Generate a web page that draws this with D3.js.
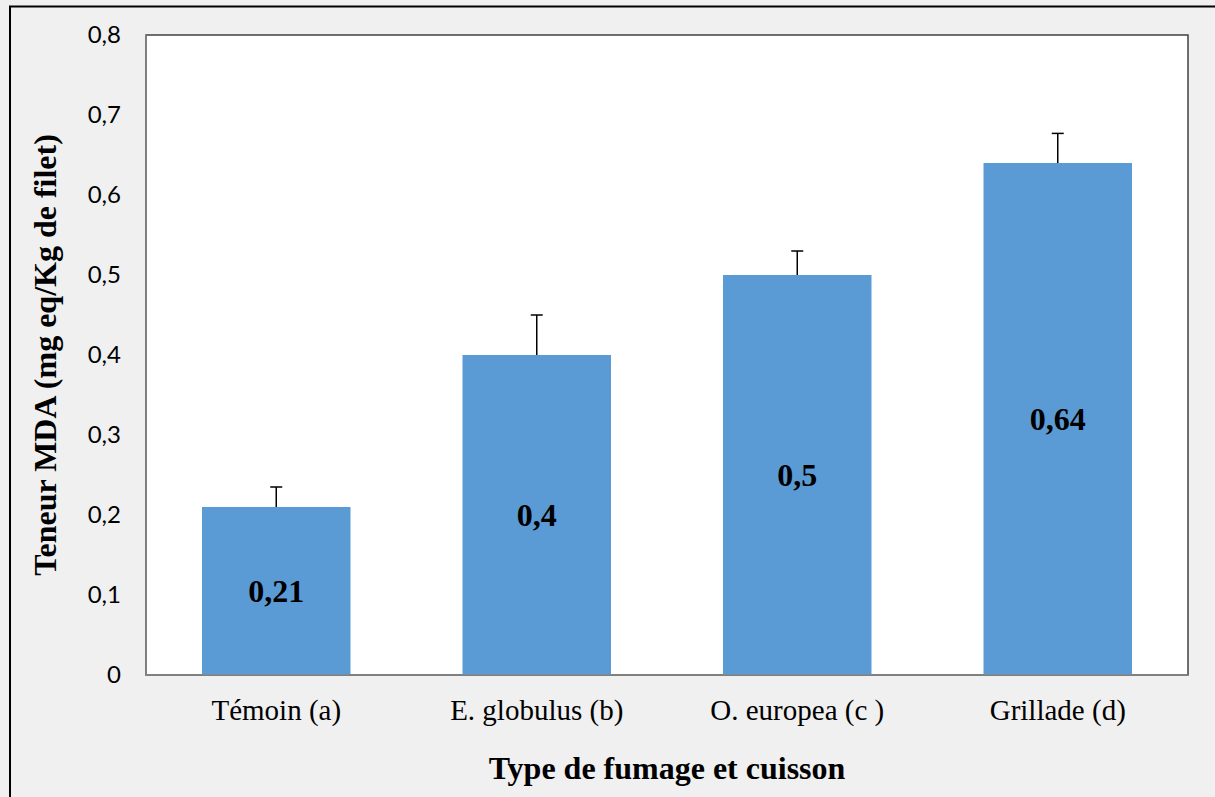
<!DOCTYPE html>
<html>
<head>
<meta charset="utf-8">
<script src="https://cdn.jsdelivr.net/npm/d3@7"></script>
<style>
  html, body { margin: 0; padding: 0; background: #f0f0f0; }
  svg { display: block; }
</style>
</head>
<body>
<svg id="chart" width="1215" height="797"></svg>
<script>
// MDA content by smoking / cooking type
const categories = ["Témoin (a)", "E. globulus (b)", "O. europea (c )", "Grillade (d)"];
const values = [0.21, 0.4, 0.5, 0.64];
const valueLabels = ["0,21", "0,4", "0,5", "0,64"];
const errors = [0.025, 0.05, 0.03, 0.037];
const yTicks = [0, 0.1, 0.2, 0.3, 0.4, 0.5, 0.6, 0.7, 0.8];

const svg = d3.select("#chart");
const W = 1215, H = 797;
const plot = { left: 146, top: 35, right: 1188, bottom: 675 };
const serif = "'Liberation Serif', 'Times New Roman', serif";

// outer frame
svg.append("rect").attr("x", 0).attr("y", 0).attr("width", W).attr("height", H).attr("fill", "#f0f0f0");
svg.append("line").attr("x1", 10).attr("x2", 10).attr("y1", 6.5).attr("y2", H).attr("stroke", "#000").attr("stroke-width", 2);
svg.append("line").attr("x1", 9).attr("x2", W).attr("y1", 6.5).attr("y2", 6.5).attr("stroke", "#000").attr("stroke-width", 2);

const x = d3.scaleBand().domain(categories).range([plot.left, plot.right]).paddingInner(0.43).paddingOuter(0.215);
const y = d3.scaleLinear().domain([0, 0.8]).range([plot.bottom, plot.top]);

// plot area
svg.append("rect")
  .attr("x", plot.left).attr("y", plot.top)
  .attr("width", plot.right - plot.left).attr("height", plot.bottom - plot.top)
  .attr("fill", "#fff").attr("stroke", "#404040").attr("stroke-width", 1.5);

// bars
svg.selectAll("rect.bar").data(values).join("rect")
  .attr("class", "bar")
  .attr("x", (d, i) => x(categories[i]))
  .attr("width", x.bandwidth())
  .attr("y", d => y(d))
  .attr("height", d => y(0) - y(d))
  .attr("fill", "#5b9bd5");

// error bars (upper only)
const eb = svg.append("g").attr("stroke", "#000").attr("stroke-width", 1.5);
values.forEach((v, i) => {
  const cx = x(categories[i]) + x.bandwidth() / 2;
  eb.append("line").attr("x1", cx).attr("x2", cx).attr("y1", y(v)).attr("y2", y(v + errors[i]));
  eb.append("line").attr("x1", cx - 6).attr("x2", cx + 6).attr("y1", y(v + errors[i])).attr("y2", y(v + errors[i]));
});

// value labels inside bars
svg.selectAll("text.val").data(values).join("text")
  .attr("class", "val")
  .attr("x", (d, i) => x(categories[i]) + x.bandwidth() / 2)
  .attr("y", d => (y(d) + y(0)) / 2)
  .attr("dy", "0.35em")
  .attr("text-anchor", "middle")
  .attr("font-family", serif)
  .attr("font-weight", "bold")
  .attr("font-size", 32)
  .text((d, i) => valueLabels[i]);

// axes lines
svg.append("line").attr("x1", plot.left).attr("x2", plot.left).attr("y1", plot.top).attr("y2", plot.bottom).attr("stroke", "#868686").attr("stroke-width", 1.5);
svg.append("line").attr("x1", plot.left).attr("x2", plot.right).attr("y1", plot.bottom).attr("y2", plot.bottom).attr("stroke", "#868686").attr("stroke-width", 1.5);

// y axis
const yAxis = svg.append("g")
  .attr("transform", `translate(${plot.left},0)`)
  .call(d3.axisLeft(y).tickValues(yTicks).tickSize(0).tickPadding(25)
    .tickFormat(d => d === 0 ? "0" : d3.format(".1f")(d).replace(".", ",")));
yAxis.select(".domain").remove();
yAxis.selectAll("text")
  .attr("font-family", "Lato, 'Open Sans', sans-serif")
  .attr("font-size", 24)
  .attr("fill", "#000");

// x axis
const xAxis = svg.append("g")
  .attr("transform", `translate(0,${plot.bottom})`)
  .call(d3.axisBottom(x).tickSize(0).tickPadding(0));
xAxis.select(".domain").remove();
xAxis.selectAll("text")
  .attr("y", 45)
  .attr("dy", 0)
  .attr("font-family", serif)
  .attr("font-size", 29)
  .attr("fill", "#000");

// axis titles
svg.append("text")
  .attr("transform", `translate(56,${(plot.top + plot.bottom) / 2}) rotate(-90)`)
  .attr("text-anchor", "middle")
  .attr("font-family", serif)
  .attr("font-weight", "bold")
  .attr("font-size", 32)
  .text("Teneur MDA (mg eq/Kg de filet)");

svg.append("text")
  .attr("x", (plot.left + plot.right) / 2)
  .attr("y", 779)
  .attr("text-anchor", "middle")
  .attr("font-family", serif)
  .attr("font-weight", "bold")
  .attr("font-size", 32)
  .text("Type de fumage et cuisson");
</script>
</body>
</html>
